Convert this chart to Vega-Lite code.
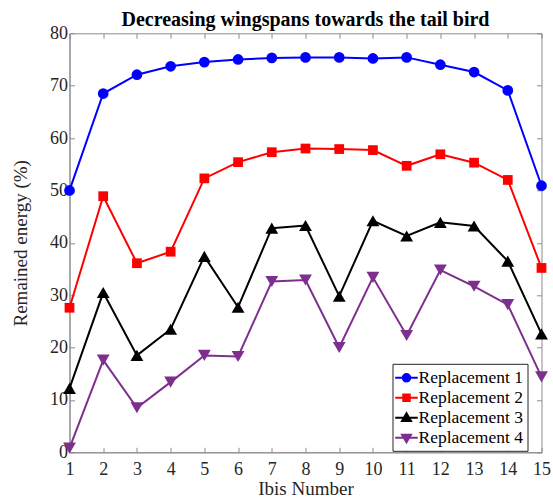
{
  "$schema": "https://vega.github.io/schema/vega-lite/v6.json",
  "width": 472,
  "height": 419,
  "autosize": "none",
  "padding": {"left": 69.5, "top": 33.3, "right": 11.5, "bottom": 48.7},
  "background": "white",
  "config": {
    "font": "Liberation Serif",
    "view": {"stroke": "#8c8c8c", "strokeWidth": 1},
    "axis": {
      "grid": false,
      "domainColor": "#8c8c8c",
      "tickColor": "#8c8c8c",
      "tickSize": -5,
      "labelFont": "Liberation Serif",
      "labelFontSize": 18,
      "labelColor": "#262626",
      "titleFont": "Liberation Serif",
      "titleFontSize": 19,
      "titleFontWeight": "normal",
      "titleColor": "#262626"
    },
    "legend": {
      "title": null,
      "orient": "none",
      "legendX": 323,
      "legendY": 330.5,
      "padding": 4,
      "rowPadding": 1,
      "strokeColor": "#262626",
      "fillColor": "white",
      "symbolSize": 324,
      "symbolStrokeWidth": 2,
      "symbolOpacity": 1,
      "labelFont": "Liberation Serif",
      "labelFontSize": 17.5,
      "labelColor": "#000000",
      "labelOffset": 2
    }
  },
  "title": {
    "text": "Decreasing wingspans towards the tail bird",
    "font": "Liberation Serif",
    "fontSize": 20,
    "fontWeight": "bold",
    "color": "#000000",
    "anchor": "middle",
    "offset": -6
  },
  "datasets": {
    "energy": [
      {"ibis": 1, "series": "Replacement 1", "value": 50.0},
      {"ibis": 2, "series": "Replacement 1", "value": 68.5},
      {"ibis": 3, "series": "Replacement 1", "value": 72.1},
      {"ibis": 4, "series": "Replacement 1", "value": 73.7},
      {"ibis": 5, "series": "Replacement 1", "value": 74.5},
      {"ibis": 6, "series": "Replacement 1", "value": 75.0},
      {"ibis": 7, "series": "Replacement 1", "value": 75.3},
      {"ibis": 8, "series": "Replacement 1", "value": 75.4},
      {"ibis": 9, "series": "Replacement 1", "value": 75.4},
      {"ibis": 10, "series": "Replacement 1", "value": 75.2},
      {"ibis": 11, "series": "Replacement 1", "value": 75.4},
      {"ibis": 12, "series": "Replacement 1", "value": 74.0},
      {"ibis": 13, "series": "Replacement 1", "value": 72.6},
      {"ibis": 14, "series": "Replacement 1", "value": 69.1},
      {"ibis": 15, "series": "Replacement 1", "value": 50.9},
      {"ibis": 1, "series": "Replacement 2", "value": 27.6},
      {"ibis": 2, "series": "Replacement 2", "value": 48.9},
      {"ibis": 3, "series": "Replacement 2", "value": 36.1},
      {"ibis": 4, "series": "Replacement 2", "value": 38.3},
      {"ibis": 5, "series": "Replacement 2", "value": 52.3},
      {"ibis": 6, "series": "Replacement 2", "value": 55.4},
      {"ibis": 7, "series": "Replacement 2", "value": 57.3},
      {"ibis": 8, "series": "Replacement 2", "value": 58.0},
      {"ibis": 9, "series": "Replacement 2", "value": 57.9},
      {"ibis": 10, "series": "Replacement 2", "value": 57.7},
      {"ibis": 11, "series": "Replacement 2", "value": 54.7},
      {"ibis": 12, "series": "Replacement 2", "value": 56.9},
      {"ibis": 13, "series": "Replacement 2", "value": 55.3},
      {"ibis": 14, "series": "Replacement 2", "value": 52.0},
      {"ibis": 15, "series": "Replacement 2", "value": 35.2},
      {"ibis": 1, "series": "Replacement 3", "value": 12.2},
      {"ibis": 2, "series": "Replacement 3", "value": 30.5},
      {"ibis": 3, "series": "Replacement 3", "value": 18.5},
      {"ibis": 4, "series": "Replacement 3", "value": 23.5},
      {"ibis": 5, "series": "Replacement 3", "value": 37.4},
      {"ibis": 6, "series": "Replacement 3", "value": 27.7},
      {"ibis": 7, "series": "Replacement 3", "value": 42.8},
      {"ibis": 8, "series": "Replacement 3", "value": 43.3},
      {"ibis": 9, "series": "Replacement 3", "value": 29.8},
      {"ibis": 10, "series": "Replacement 3", "value": 44.2},
      {"ibis": 11, "series": "Replacement 3", "value": 41.3},
      {"ibis": 12, "series": "Replacement 3", "value": 43.9},
      {"ibis": 13, "series": "Replacement 3", "value": 43.2},
      {"ibis": 14, "series": "Replacement 3", "value": 36.5},
      {"ibis": 15, "series": "Replacement 3", "value": 22.6},
      {"ibis": 1, "series": "Replacement 4", "value": 0.8},
      {"ibis": 2, "series": "Replacement 4", "value": 17.6},
      {"ibis": 3, "series": "Replacement 4", "value": 8.5},
      {"ibis": 4, "series": "Replacement 4", "value": 13.4},
      {"ibis": 5, "series": "Replacement 4", "value": 18.5},
      {"ibis": 6, "series": "Replacement 4", "value": 18.3},
      {"ibis": 7, "series": "Replacement 4", "value": 32.6},
      {"ibis": 8, "series": "Replacement 4", "value": 32.9},
      {"ibis": 9, "series": "Replacement 4", "value": 20.0},
      {"ibis": 10, "series": "Replacement 4", "value": 33.4},
      {"ibis": 11, "series": "Replacement 4", "value": 22.3},
      {"ibis": 12, "series": "Replacement 4", "value": 34.8},
      {"ibis": 13, "series": "Replacement 4", "value": 31.7},
      {"ibis": 14, "series": "Replacement 4", "value": 28.2},
      {"ibis": 15, "series": "Replacement 4", "value": 14.4}
    ]
  },
  "data": {"name": "energy"},
  "encoding": {
    "x": {"field": "ibis", "type": "quantitative", "scale": {"domain": [1, 15], "nice": false, "zero": false}, "axis": null},
    "y": {"field": "value", "type": "quantitative", "scale": {"domain": [0, 80], "nice": false}, "axis": null},
    "color": {
      "field": "series", "type": "nominal",
      "scale": {"domain": ["Replacement 1", "Replacement 2", "Replacement 3", "Replacement 4"], "range": ["#0000ff", "#ff0000", "#000000", "#7e2f8e"]},
      "legend": {
        "encoding": {
          "symbols": {
            "shape": {"value": {"expr": "datum.value === 'Replacement 1' ? 'M-1.25,0H1.25M0.42,0A0.42,0.42,0,1,1,-0.42,0A0.42,0.42,0,1,1,0.42,0Z' : datum.value === 'Replacement 2' ? 'M-1.25,0H1.25M-0.36,-0.36H0.36V0.36H-0.36Z' : datum.value === 'Replacement 3' ? 'M-1.25,0H1.25M0,-0.5L0.5,0.35H-0.5Z' : 'M-1.25,0H1.25M0,0.5L0.5,-0.35H-0.5Z'"}},
            "fill": {"value": {"expr": "scale('color', datum.value)"}},
            "stroke": {"value": {"expr": "scale('color', datum.value)"}},
            "strokeWidth": {"value": 2},
            "opacity": {"value": 1}
          }
        }
      }
    }
  },
  "layer": [
    {
      "mark": {"type": "line", "strokeWidth": 2},
      "encoding": {
        "x": {
          "field": "ibis", "type": "quantitative",
          "axis": {"title": "Ibis Number", "values": [1,2,3,4,5,6,7,8,9,10,11,12,13,14,15], "labelPadding": 13, "titlePadding": 1, "labelFlush": false}
        },
        "y": {
          "field": "value", "type": "quantitative",
          "axis": {"title": "Remained energy (%)", "values": [0,10,20,30,40,50,60,70,80], "labelPadding": 7, "titlePadding": 19, "labelFlush": false}
        }
      }
    },
    {
      "transform": [{"filter": {"field": "series", "equal": "Replacement 1"}}],
      "mark": {"type": "point", "filled": true, "opacity": 1, "shape": "circle", "size": 115}
    },
    {
      "transform": [{"filter": {"field": "series", "equal": "Replacement 2"}}],
      "mark": {"type": "point", "filled": true, "opacity": 1, "shape": "square", "size": 95}
    },
    {
      "transform": [{"filter": {"field": "series", "equal": "Replacement 3"}}],
      "mark": {"type": "point", "filled": true, "opacity": 1, "shape": "triangle-up", "size": 165}
    },
    {
      "transform": [{"filter": {"field": "series", "equal": "Replacement 4"}}],
      "mark": {"type": "point", "filled": true, "opacity": 1, "shape": "triangle-down", "size": 165}
    },
    {
      "mark": {"type": "point", "opacity": 0},
      "encoding": {
        "color": {"value": "white"},
        "x": {"field": "ibis", "type": "quantitative",
          "axis": {"orient": "top", "title": null, "labels": false, "domain": false, "values": [1,2,3,4,5,6,7,8,9,10,11,12,13,14,15]}},
        "y": {"field": "value", "type": "quantitative",
          "axis": {"orient": "right", "title": null, "labels": false, "domain": false, "values": [0,10,20,30,40,50,60,70,80]}}
      }
    }
  ],
  "resolve": {"axis": {"x": "independent", "y": "independent"}}
}
